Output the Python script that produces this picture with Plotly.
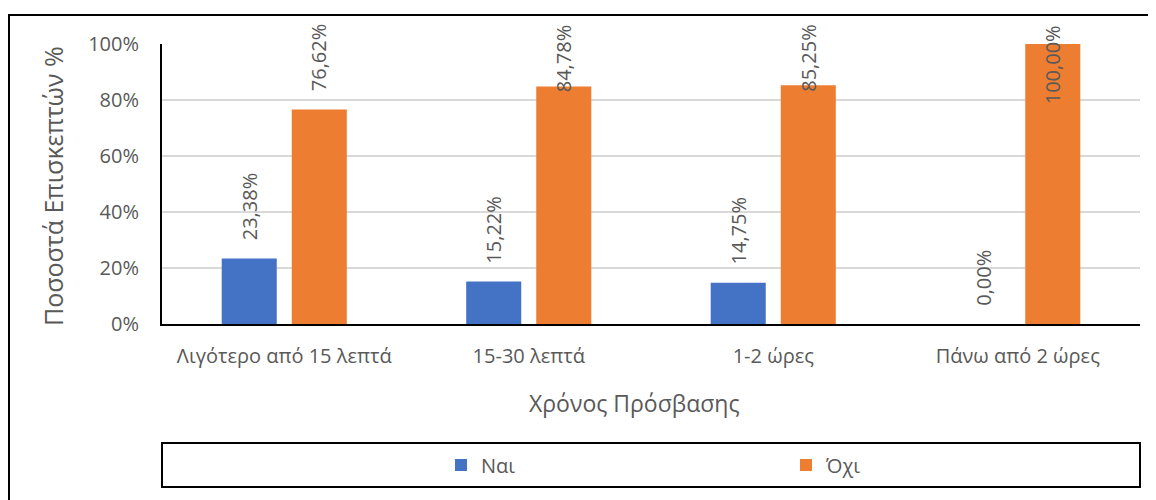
import plotly.graph_objects as go

categories = ["Λιγότερο από 15 λεπτά", "15-30 λεπτά", "1-2 ώρες", "Πάνω από 2 ώρες"]
nai_values = [23.38, 15.22, 14.75, 0.00]
ochi_values = [76.62, 84.78, 85.25, 100.00]
series_names = ["Ναι", "Όχι"]
y_ticks = [0, 20, 40, 60, 80, 100]
y_tick_labels = ["0%", "20%", "40%", "60%", "80%", "100%"]

FONT = "Open Sans"
GREY = "#595959"
BLUE = "#4472C4"
ORANGE = "#ED7D31"

OFF = 8  # page body margin
W, H = 1156 - 2 * OFF, 500 - OFF
PLOT_L, PLOT_R, PLOT_T, PLOT_B = 162, 1140, 44, 324  # screen px
ML = PLOT_L - OFF
MT = PLOT_T - OFF
MR = W - (PLOT_R - OFF)
MB = H - (PLOT_B - OFF)
PW = PLOT_R - PLOT_L
PH = PLOT_B - PLOT_T


def px_x(px):
    return (px - PLOT_L) / PW


def px_y(py):
    return (PLOT_B - py) / PH


def fmt(v):
    return f"{v:.2f}".replace(".", ",") + "%"


fig = go.Figure()
fig.add_trace(go.Bar(x=categories, y=nai_values, name=series_names[0],
                     marker=dict(color=BLUE, line=dict(width=0))))
fig.add_trace(go.Bar(x=categories, y=ochi_values, name=series_names[1],
                     marker=dict(color=ORANGE, line=dict(width=0))))

annotations = []
label_gap = 16
label_len = 70
top_px = 23
for vals, shift in ((nai_values, -35), (ochi_values, 35)):
    for c, v in zip(categories, vals):
        bar_top_px = PLOT_B - v / 100 * PH
        if bar_top_px - label_gap - label_len < top_px:
            annotations.append(dict(x=c, y=px_y(top_px), xref="x", yref="paper",
                                    xshift=shift, yanchor="top", xanchor="center",
                                    text=fmt(v), textangle=-90, showarrow=False,
                                    font=dict(family=FONT, size=20, color=GREY)))
        else:
            annotations.append(dict(x=c, y=v, xref="x", yref="y",
                                    xshift=shift, yshift=label_gap, yanchor="bottom",
                                    xanchor="center", text=fmt(v), textangle=-90,
                                    showarrow=False,
                                    font=dict(family=FONT, size=20, color=GREY)))

annotations.append(dict(x=px_x(634), y=px_y(403), xref="paper", yref="paper",
                        text="Χρόνος Πρόσβασης", showarrow=False,
                        xanchor="center", yanchor="middle",
                        font=dict(family=FONT, size=23, color=GREY)))
annotations.append(dict(x=px_x(53), y=px_y(186), xref="paper", yref="paper",
                        text="Ποσοστά Επισκεπτών %", showarrow=False, textangle=-90,
                        xanchor="center", yanchor="middle",
                        font=dict(family=FONT, size=25, color=GREY)))

shapes = [
    # outer chart frame (top and left edges visible)
    dict(type="line", xref="paper", yref="paper",
         x0=px_x(8), x1=px_x(1160), y0=px_y(15), y1=px_y(15),
         line=dict(color="black", width=2), layer="below"),
    dict(type="line", xref="paper", yref="paper",
         x0=px_x(9), x1=px_x(9), y0=px_y(15), y1=px_y(505),
         line=dict(color="black", width=2), layer="below"),
    # legend box
    dict(type="rect", xref="paper", yref="paper",
         x0=px_x(162), x1=px_x(1140), y0=px_y(487), y1=px_y(443),
         line=dict(color="black", width=2), fillcolor="rgba(0,0,0,0)"),
]

fig.update_layout(
    width=W, height=H,
    margin=dict(l=ML, r=MR, t=MT, b=MB, pad=0),
    paper_bgcolor="white", plot_bgcolor="white",
    barmode="group", bargap=0.427, bargroupgap=0.214,
    font=dict(family=FONT, size=20, color=GREY),
    annotations=annotations,
    shapes=shapes,
    showlegend=True,
    legend=dict(orientation="h", x=px_x(441), y=px_y(465), xanchor="left", yanchor="middle",
                font=dict(family=FONT, size=20, color=GREY),
                entrywidth=300, entrywidthmode="pixels",
                bgcolor="rgba(0,0,0,0)", borderwidth=0, itemclick=False),
    xaxis=dict(showline=True, linecolor="black", linewidth=2,
               ticks="outside", ticklen=13, tickcolor="rgba(0,0,0,0)",
               tickfont=dict(family=FONT, size=20, color=GREY), showgrid=False),
    yaxis=dict(range=[0, 100], tickvals=y_ticks, ticktext=y_tick_labels,
               showline=True, linecolor="black", linewidth=2,
               ticks="outside", ticklen=17, tickcolor="rgba(0,0,0,0)",
               showgrid=True, gridcolor="#D9D9D9", gridwidth=2,
               zeroline=False,
               tickfont=dict(family=FONT, size=20, color=GREY)),
)

fig.write_html("out.html")
